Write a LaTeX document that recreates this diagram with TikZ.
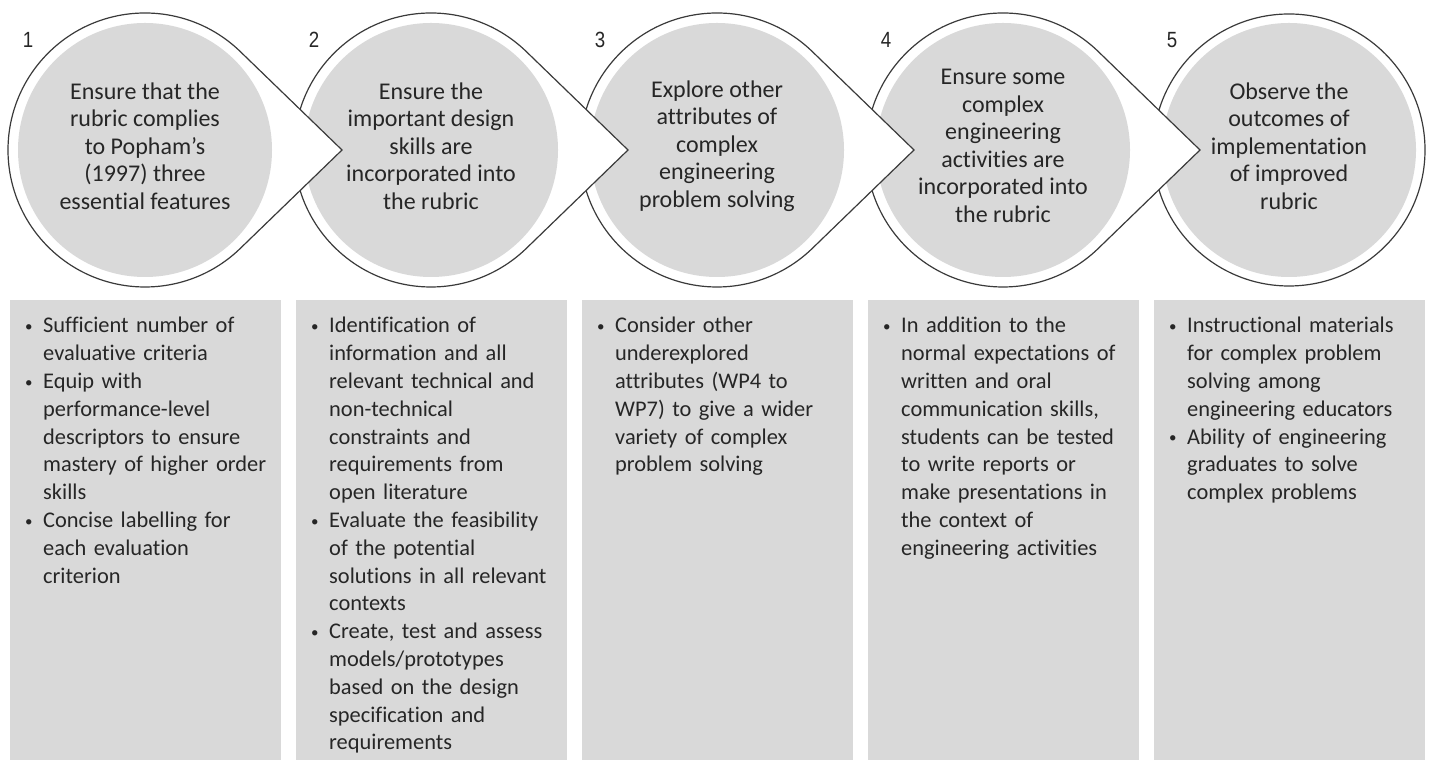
\documentclass[tikz,border=0pt]{standalone}
\usepackage{fontspec}
\setmainfont{Carlito}[Ligatures=NoCommon]
\newfontfamily\numfont[FakeStretch=0.85]{Liberation Sans}
\definecolor{stepgray}{HTML}{D9D9D9}
\definecolor{inkgray}{HTML}{262626}
\definecolor{rimgray}{HTML}{3A3A3A}
% small dot used as the list label
\newcommand{\dotlabel}{\raisebox{1.5pt}{\fontsize{15}{15}\selectfont\textbullet}}
% tight bullet list, and a line break that stays in the item
\newenvironment{bullets}{\begin{list}{\dotlabel}{%
  \setlength{\leftmargin}{18pt}\setlength{\labelwidth}{18pt}%
  \setlength{\labelsep}{0pt}\setlength{\itemsep}{0pt}%
  \setlength{\parsep}{0pt}\setlength{\topsep}{0pt}%
  \setlength{\partopsep}{0pt}\def\makelabel##1{##1\hfil}}}{\end{list}}
\newcommand{\nl}{\hfil\break}

\begin{document}
\begin{tikzpicture}[x=1pt,y=1pt,
  rim/.style={draw=rimgray,line width=1.2pt,fill=white},
  disc/.style={fill=stepgray},
  title/.style={align=center,text=inkgray,font=\fontsize{24}{27.5}\selectfont},
  num/.style={text=inkgray,font=\numfont\fontsize{22}{24}\selectfont},
  panel/.style={fill=stepgray,minimum width=271pt,minimum height=460pt,anchor=north west,inner sep=0pt},
  points/.style={text width=250pt,anchor=north west,inner sep=0pt,text=inkgray,font=\fontsize{22.4}{27.8}\selectfont}]
\useasboundingbox (0,0) rectangle (1429,760);

% step centres
\foreach \i in {1,...,5}
  \coordinate (c\i) at ({145+286*(\i-1)},610);

% last step is a plain circle
\path[rim] (c5) circle[radius=136];
\fill[disc] (c5) circle[radius=127];

% circle arrows, right to left so each tip lies over the next circle
\foreach \i in {4,3,2,1} {
  \path[rim] ([shift={(46:137)}]c\i) arc[start angle=46,end angle=314,radius=137]
    -- ([shift={(197,0)}]c\i) -- cycle;
  \fill[disc] (c\i) circle[radius=127];
}

% step numbers
\node[num] (n1) at (28,720) {1};
\node[num] (n2) at (314,720) {2};
\node[num] (n3) at (600,720) {3};
\node[num] (n4) at (886,720) {4};
\node[num] (n5) at (1172,720) {5};

% step titles
\node[title] (t1) at ([yshift=4]c1) {Ensure that the\\rubric complies\\to Popham’s\\(1997) three\\essential features};
\node[title] (t2) at ([yshift=4]c2) {Ensure the\\important design\\skills are\\incorporated into\\the rubric};
\node[title] (t3) at ([yshift=4]c3) {Explore other\\attributes of\\complex\\engineering\\problem solving};
\node[title] (t4) at ([yshift=4]c4) {Ensure some\\complex\\engineering\\activities are\\incorporated into\\the rubric};
\node[title] (t5) at ([yshift=4]c5) {Observe the\\outcomes of\\implementation\\of improved\\rubric};

% panels below
\node[panel] (p1) at (10,460) {};
\node[panel] (p2) at (296,460) {};
\node[panel] (p3) at (582,460) {};
\node[panel] (p4) at (868,460) {};
\node[panel] (p5) at (1154,460) {};

\node[points] (l1) at ([shift={(15,-5)}]p1.north west) {\begin{bullets}
  \item Sufficient number of\nl evaluative criteria
  \item Equip with\nl performance-level\nl descriptors to ensure\nl mastery of higher order\nl skills
  \item Concise labelling for\nl each evaluation\nl criterion
\end{bullets}};
\node[points] (l2) at ([shift={(15,-5)}]p2.north west) {\begin{bullets}
  \item Identification of\nl information and all\nl relevant technical and\nl non-technical\nl constraints and\nl requirements from\nl open literature
  \item Evaluate the feasibility\nl of the potential\nl solutions in all relevant\nl contexts
  \item Create, test and assess\nl models/prototypes\nl based on the design\nl specification and\nl requirements
\end{bullets}};
\node[points] (l3) at ([shift={(15,-5)}]p3.north west) {\begin{bullets}
  \item Consider other\nl underexplored\nl attributes (WP4 to\nl WP7) to give a wider\nl variety of complex\nl problem solving
\end{bullets}};
\node[points] (l4) at ([shift={(15,-5)}]p4.north west) {\begin{bullets}
  \item In addition to the\nl normal expectations of\nl written and oral\nl communication skills,\nl students can be tested\nl to write reports or\nl make presentations in\nl the context of\nl engineering activities
\end{bullets}};
\node[points] (l5) at ([shift={(15,-5)}]p5.north west) {\begin{bullets}
  \item Instructional materials\nl for complex problem\nl solving among\nl engineering educators
  \item Ability of engineering\nl graduates to solve\nl complex problems
\end{bullets}};

\end{tikzpicture}
\end{document}
